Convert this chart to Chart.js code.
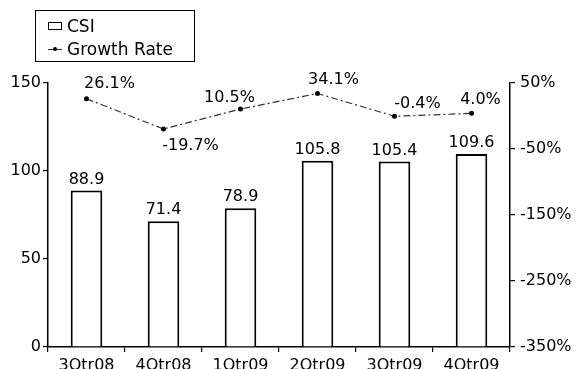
<!DOCTYPE html>
<html>
<head>
<meta charset="utf-8">
<script src="https://cdn.jsdelivr.net/npm/chart.js@4/dist/chart.umd.min.js"></script>
<style>
  body { margin: 0; background: #fff; }
  #wrap { position: relative; width: 582px; height: 369px; overflow: hidden; }
  #legend { position: absolute; left: 35px; top: 10px; width: 160px; height: 52px; border: 1px solid #000;
            font: 17px "DejaVu Sans", sans-serif; color: #000; box-sizing: border-box; }
  .item { position: absolute; left: 12px; display: flex; align-items: center; white-space: nowrap; }
  .box { width: 12px; height: 6px; border: 1.5px solid #000; background: #fff; margin-right: 5px; }
  .ln { position: relative; width: 14px; height: 1px; background: #333; margin-right: 5px; }
  .ln::after { content: ""; position: absolute; left: 5px; top: -2px; width: 4px; height: 4px; border-radius: 2px; background: #000; }
</style>
</head>
<body>
<div id="wrap">
  <canvas id="c" width="582" height="369"></canvas>
  <div id="legend">
    <div class="item" style="top:5px"><span class="box"></span><span>CSI</span></div>
    <div class="item" style="top:28px"><span class="ln"></span><span>Growth Rate</span></div>
  </div>
</div>
<script>
const categories = ['3Qtr08', '4Qtr08', '1Qtr09', '2Qtr09', '3Qtr09', '4Qtr09'];
const csi = [88.9, 71.4, 78.9, 105.8, 105.4, 109.6];
const growthRate = [26.1, -19.7, 10.5, 34.1, -0.4, 4.0];
const leftTicks = { min: 0, max: 150, step: 50 };
const rightTicks = { min: -350, max: 50, step: 100 };

const FONT = { family: '"DejaVu Sans", sans-serif', size: 16 };

const valueLabels = {
  id: 'valueLabels',
  afterDatasetsDraw(chart, args, opts) {
    const ctx = chart.ctx;
    ctx.save();
    ctx.font = '16px "DejaVu Sans", sans-serif';
    ctx.fillStyle = '#000';
    ctx.textAlign = 'center';
    ctx.textBaseline = 'bottom';
    chart.getDatasetMeta(0).data.forEach((el, i) => {
      ctx.fillText(csi[i].toFixed(1), el.x, el.y - 3);
    });
    ctx.textBaseline = 'middle';
    chart.getDatasetMeta(1).data.forEach((el, i) => {
      const n = opts.nudges[i];
      ctx.fillText(growthRate[i].toFixed(1) + '%', el.x + n[0], el.y + n[1]);
    });
    ctx.restore();
  }
};

new Chart(document.getElementById('c'), {
  data: {
    labels: categories,
    datasets: [
      {
        type: 'bar', label: 'CSI', data: csi, yAxisID: 'y', order: 1,
        backgroundColor: '#fff', borderColor: '#000', borderWidth: 2,
        barPercentage: 0.41, categoryPercentage: 1
      },
      {
        type: 'line', label: 'Growth Rate', data: growthRate, yAxisID: 'y1', order: 0,
        borderColor: '#333', borderWidth: 1.2, borderDash: [7, 3, 2, 3],
        pointRadius: 2.5, pointBackgroundColor: '#000', pointBorderWidth: 0, tension: 0
      }
    ]
  },
  options: {
    responsive: false,
    animation: false,
    layout: { padding: { top: 83, left: 0, right: 0, bottom: 0 } },
    plugins: {
      legend: { display: false },
      tooltip: { enabled: false },
      valueLabels: { nudges: [[23, -15], [27, 17], [-11, -11], [16, -14], [23, -12], [9, -14]] }
    },
    scales: {
      x: {
        offset: true,
        grid: { offset: true, drawOnChartArea: false, drawTicks: true, tickLength: 5, color: '#000', lineWidth: 1.2 },
        border: { color: '#000', width: 1.5 },
        ticks: { font: FONT, color: '#000', padding: 4, maxRotation: 0 },
        afterFit: s => { s.height = 22; }
      },
      y: {
        position: 'left', min: leftTicks.min, max: leftTicks.max,
        grid: { drawOnChartArea: false, tickLength: 5, color: '#000', lineWidth: 1.2 },
        border: { color: '#000', width: 1.5 },
        ticks: { stepSize: leftTicks.step, font: FONT, color: '#000', padding: 2 },
        afterFit: s => { s.width = 48; }
      },
      y1: {
        position: 'right', min: rightTicks.min, max: rightTicks.max,
        grid: { drawOnChartArea: false, tickLength: 5, color: '#000', lineWidth: 1.2 },
        border: { color: '#000', width: 1.5 },
        ticks: { stepSize: rightTicks.step, font: FONT, color: '#000', padding: 5, callback: v => v + '%' },
        afterFit: s => { s.width = 72; }
      }
    }
  },
  plugins: [valueLabels]
});
</script>
</body>
</html>
